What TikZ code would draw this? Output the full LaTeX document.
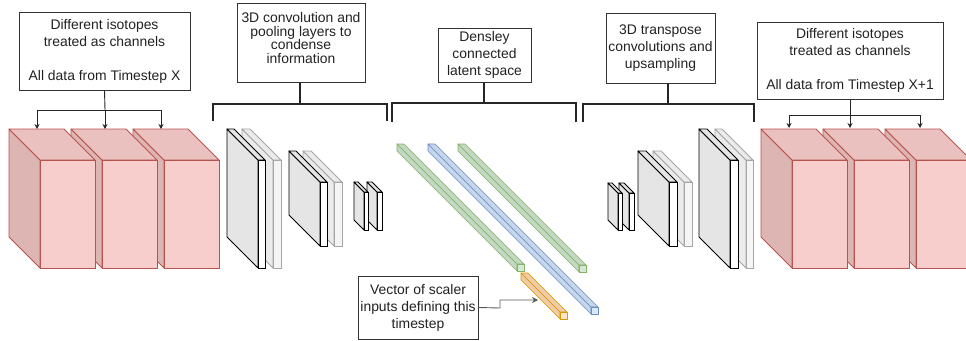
\documentclass[tikz,border=0pt]{standalone}
\usepackage{fontspec}
\setmainfont{Liberation Sans}
\usetikzlibrary{arrows.meta}
\definecolor{txt}{HTML}{222222}
\definecolor{redfront}{HTML}{F8CECC}
\definecolor{redtop}{HTML}{EAC1BF}
\definecolor{redsd}{HTML}{DDB6B4}
\definecolor{redline}{HTML}{B85450}
\definecolor{grnfront}{HTML}{D5E8D4}
\definecolor{grnsd}{HTML}{C3D8C2}
\definecolor{grnline}{HTML}{82B366}
\definecolor{blufront}{HTML}{DAE8FC}
\definecolor{blusd}{HTML}{C5D5EC}
\definecolor{bluline}{HTML}{6C8EBF}
\definecolor{orgfront}{HTML}{FFE6CC}
\definecolor{orgsd}{HTML}{F0CBA5}
\definecolor{orgline}{HTML}{D79B00}
\tikzset{
  txtbox/.style={draw=black!80, fill=white, line width=0.8pt, align=center, text=txt,
    font=\fontsize{13.9}{17}\selectfont, inner sep=0pt},
  plaintxt/.style={align=center, text=txt, font=\fontsize{13.9}{13.7}\selectfont, inner sep=0pt},
  feed/.style={draw=black!85, line width=0.9pt, -{Stealth[length=5pt,width=5pt]}},
  brace/.style={draw=black!85, line width=1.6pt},
  vecarrow/.style={draw=black!65, line width=0.9pt, -{Stealth[length=6pt,width=6pt]}},
  redside/.style={fill=redsd, draw=redline, line width=0.8pt, line join=round},
  redtop/.style={fill=redtop, draw=redline, line width=0.8pt, line join=round},
  redfront/.style={fill=redfront, draw=redline, line width=0.8pt},
  dkside/.style={fill=black!10, draw=black, line width=0.9pt, line join=round},
  dktop/.style={fill=black!10, draw=black, line width=0.9pt, line join=round},
  dkfront/.style={fill=white, draw=black, line width=0.9pt},
  ltside/.style={fill=black!8, draw=black!35, line width=0.9pt, line join=round},
  lttop/.style={fill=black!8, draw=black!35, line width=0.9pt, line join=round},
  ltfront/.style={fill=black!4, draw=black!35, line width=0.9pt},
  grnside/.style={fill=grnsd, draw=grnline, line width=0.7pt, line join=round},
  grntop/.style={fill=grnsd, draw=grnline, line width=0.7pt, line join=round},
  grnfront/.style={fill=grnfront, draw=grnline, line width=0.7pt},
  bluside/.style={fill=blusd, draw=bluline, line width=0.7pt, line join=round},
  blutop/.style={fill=blusd, draw=bluline, line width=0.7pt, line join=round},
  blufront/.style={fill=blufront, draw=bluline, line width=0.7pt},
  orgside/.style={fill=orgsd, draw=orgline, line width=0.7pt, line join=round},
  orgtop/.style={fill=orgsd, draw=orgline, line width=0.7pt, line join=round},
  orgfront/.style={fill=orgfront, draw=orgline, line width=0.7pt},
}
% #1 x, #2 y (back top-left), #3 w, #4 h, #5 depth, #6 style prefix
\newcommand\mycuboid[6]{%
  \draw[#6side] (#1,#2) -- ++(#5,#5) -- ++(0,#4) -- ++(-#5,-#5) -- cycle;
  \draw[#6top] (#1,#2) -- ++(#3,0) -- ++(#5,#5) -- ++(-#3,0) -- cycle;
  \draw[#6front] (#1,#2) ++(#5,#5) rectangle ++(#3,#4);
}
\begin{document}
\begin{tikzpicture}[x=1pt,y=-1pt]
\useasboundingbox (0,0) rectangle (966,340);
\clip (0,0) rectangle (966,340);
\fill[white] (0,0) rectangle (966,340);

% ---------- input cubes (drawn right to left) ----------
\mycuboid{133}{129}{55}{108}{31}{red}
\mycuboid{71}{129}{55}{108}{31}{red}
\mycuboid{9}{129}{55}{108}{31}{red}

\node[txtbox, minimum width=171pt, minimum height=78pt] (inbox) at (104.5,51)
  {Different isotopes\\treated as channels\\[17pt]All data from Timestep X};
\coordinate (inA) at (37,129);
\coordinate (inB) at (105,129);
\coordinate (inC) at (161,129);
\coordinate (inJ) at (105,110);
\draw[black!85, line width=0.9pt] (inbox.south) -- (inJ);
\draw[feed] (inJ) -| (inA);
\draw[feed] (inJ) -- (inB);
\draw[feed] (inJ) -| (inC);

% ---------- encoder ----------
\mycuboid{242}{129}{8}{108}{31}{lt}
\mycuboid{227}{129}{7}{108}{31}{dk}
\mycuboid{303}{151}{8}{64}{31}{lt}
\mycuboid{289}{151}{7}{64}{31}{dk}
\mycuboid{367}{182}{5}{38}{10}{dk}
\mycuboid{354}{182}{4}{38}{10}{dk}

\node[draw=black!80, fill=white, line width=0.8pt, minimum width=128pt, minimum height=79pt, inner sep=0pt] (convbox) at (301,42.5) {};
\node[plaintxt] (convtxt) at (301,38) {3D convolution and\\pooling layers to\\condense\\information};
\coordinate (eL) at (213,121);
\coordinate (eR) at (387,121);
\coordinate (eM) at (300,104);
\draw[brace] (eL) |- (eM) -| (eR);
\draw[brace] (convbox.south -| eM) -- (eM);

% ---------- latent ----------
\mycuboid{397}{144}{7}{7}{120}{grn}
\mycuboid{458}{144}{7}{7}{121}{grn}
\mycuboid{428}{144}{7}{7}{163}{blu}
\mycuboid{521}{273}{7}{7}{39}{org}

\node[txtbox, minimum width=93pt, minimum height=54pt] (latbox) at (484.5,55)
  {Densley\\connected\\latent space};
\coordinate (lL) at (392,122);
\coordinate (lR) at (576,122);
\coordinate (lM) at (484,103);
\draw[brace] (lL) |- (lM) -| (lR);
\draw[brace] (latbox.south -| lM) -- (lM);

\node[txtbox, minimum width=120pt, minimum height=63pt] (vecbox) at (418,307.5)
  {Vector of scaler\\inputs defining this\\timestep};
\coordinate (vecT) at (538,300);
\coordinate (vecK) at (500,308);
\draw[vecarrow] (vecbox.east) -- (vecK) |- (vecT);

% ---------- decoder ----------
\mycuboid{619}{183}{5}{37}{10}{dk}
\mycuboid{608}{183}{4}{37}{10}{dk}
\mycuboid{653}{151}{8}{64}{31}{lt}
\mycuboid{638}{151}{8}{64}{31}{dk}
\mycuboid{715}{129}{7}{108}{31}{lt}
\mycuboid{699}{129}{8}{108}{31}{dk}

\node[txtbox, minimum width=109pt, minimum height=70pt] (decbox) at (660.5,48)
  {3D transpose\\convolutions and\\upsampling};
\coordinate (dL) at (583,122);
\coordinate (dR) at (754,122);
\coordinate (dM) at (668,104);
\draw[brace] (dL) |- (dM) -| (dR);
\draw[brace] (decbox.south -| dM) -- (dM);

% ---------- output cubes (drawn right to left) ----------
\mycuboid{885}{129}{55}{108}{31}{red}
\mycuboid{823}{129}{55}{108}{31}{red}
\mycuboid{761}{129}{55}{108}{31}{red}

\node[txtbox, minimum width=186pt, minimum height=77pt] (outbox) at (850,60.5)
  {Different isotopes\\treated as channels\\[17pt]All data from Timestep X+1};
\coordinate (outA) at (789,128);
\coordinate (outB) at (850,128);
\coordinate (outC) at (920,128);
\coordinate (outJ) at (850,115);
\draw[black!85, line width=0.9pt] (outbox.south) -- (outJ);
\draw[feed] (outJ) -| (outA);
\draw[feed] (outJ) -- (outB);
\draw[feed] (outJ) -| (outC);
\end{tikzpicture}
\end{document}
